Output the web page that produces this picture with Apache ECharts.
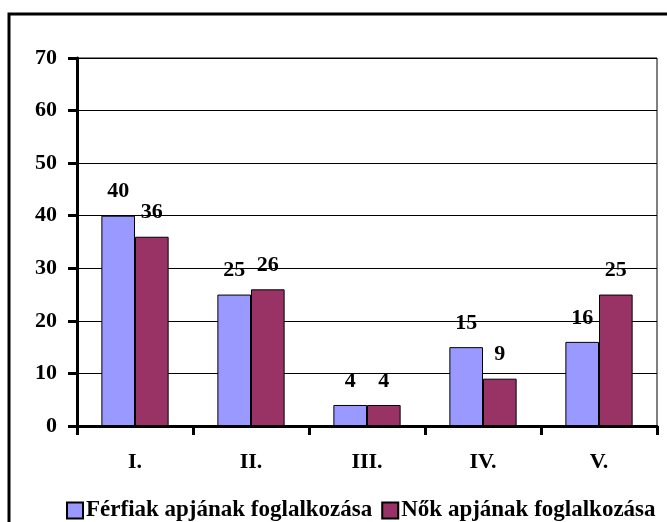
<!DOCTYPE html>
<html>
<head>
<meta charset="utf-8">
<script src="https://cdn.jsdelivr.net/npm/echarts@6/dist/echarts.min.js"></script>
<style>
  html, body { margin: 0; padding: 0; background: #fff; }
  #chart { width: 667px; height: 522px; }
</style>
</head>
<body>
<div id="chart"></div>
<script>
  // kategóriák és értékek
  var categories = ['I.', 'II.', 'III.', 'IV.', 'V.'];
  var ferfiak = [40, 25, 4, 15, 16];
  var nok = [36, 26, 4, 9, 25];
  var seriesNames = ['Férfiak apjának foglalkozása', 'Nők apjának foglalkozása'];

  var font = 'Liberation Serif, Times New Roman, serif';
  var myChart = echarts.init(document.getElementById('chart'));

  var labelStyle = {
    show: true,
    position: 'top',
    distance: 13,
    color: '#000',
    fontFamily: font,
    fontWeight: 'bold',
    fontSize: 22
  };

  var option = {
    animation: false,
    backgroundColor: '#fff',
    graphic: [{
      type: 'rect',
      shape: { x: 9, y: 14, width: 700, height: 600 },
      style: { fill: 'none', stroke: '#000', lineWidth: 3 },
      silent: true
    }],
    grid: {
      left: 77,
      right: 10,
      top: 58,
      bottom: 96,
      show: true,
      borderColor: '#000',
      borderWidth: 1
    },
    legend: {
      left: 61,
      top: 494,
      itemWidth: 16,
      itemHeight: 16,
      itemGap: 9,
      icon: 'rect',
      textStyle: {
        color: '#000',
        fontFamily: font,
        fontWeight: 'bold',
        fontSize: 23,
        padding: [0, 0, 0, -2]
      },
      data: seriesNames
    },
    xAxis: {
      type: 'category',
      data: categories,
      axisLine: { lineStyle: { color: '#000', width: 3 } },
      axisTick: { show: true, length: 9, lineStyle: { color: '#000', width: 3 } },
      axisLabel: {
        color: '#000',
        fontFamily: font,
        fontWeight: 'bold',
        fontSize: 22,
        margin: 25
      }
    },
    yAxis: {
      type: 'value',
      min: 0,
      max: 70,
      interval: 10,
      axisLine: { show: true, lineStyle: { color: '#000', width: 3 } },
      axisTick: { show: true, length: 9, lineStyle: { color: '#000', width: 3 } },
      splitLine: { lineStyle: { color: '#000', width: 1 } },
      axisLabel: {
        color: '#000',
        fontFamily: font,
        fontWeight: 'bold',
        fontSize: 22,
        margin: 20
      }
    },
    series: [
      {
        name: seriesNames[0],
        type: 'bar',
        data: ferfiak,
        barGap: '0%',
        barCategoryGap: '42%',
        itemStyle: { color: '#9999FF', borderColor: '#000', borderWidth: 1 },
        label: labelStyle
      },
      {
        name: seriesNames[1],
        type: 'bar',
        data: nok,
        itemStyle: { color: '#993366', borderColor: '#000', borderWidth: 1 },
        label: labelStyle
      }
    ]
  };
  myChart.setOption(option);
</script>
</body>
</html>
